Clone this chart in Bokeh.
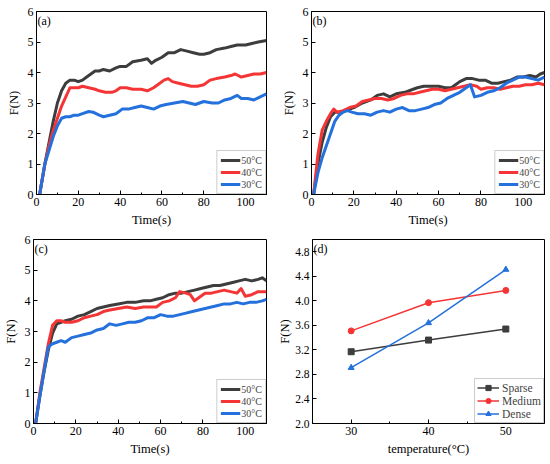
from bokeh.plotting import figure
from bokeh.layouts import column, row
from bokeh.models import Range1d, FixedTicker, Label, Legend, NumeralTickFormatter
from bokeh.embed import file_html
from bokeh.resources import INLINE

FONT = "Liberation Serif"
C50 = "#3d3d3d"
C40 = "#f53535"
C30 = "#2470dc"

# ---------------- panel (a) ----------------
a_t50 = [1.5, 4, 6, 8, 10, 12, 14, 16, 18, 20, 22, 24, 26, 28, 30, 32, 35, 38, 40, 43, 46, 50, 53, 55, 57, 60, 63, 66, 69, 72, 75, 78, 80, 83, 86, 90, 93, 96, 100, 103, 106, 110]
a_f50 = [0, 1.0, 1.7, 2.4, 3.0, 3.4, 3.65, 3.75, 3.75, 3.7, 3.75, 3.85, 3.95, 4.05, 4.05, 4.1, 4.05, 4.15, 4.2, 4.2, 4.35, 4.4, 4.45, 4.3, 4.4, 4.5, 4.65, 4.65, 4.75, 4.7, 4.65, 4.6, 4.6, 4.65, 4.75, 4.8, 4.85, 4.9, 4.9, 4.95, 5.0, 5.05]
a_t40 = [1.5, 4, 6, 8, 10, 12, 14, 16, 18, 20, 22, 25, 28, 30, 33, 36, 38, 40, 43, 46, 50, 53, 56, 58, 61, 63, 65, 68, 71, 74, 77, 80, 83, 86, 90, 93, 95, 98, 101, 104, 107, 110]
a_f40 = [0, 1.0, 1.6, 2.1, 2.5, 2.9, 3.2, 3.5, 3.5, 3.5, 3.55, 3.5, 3.45, 3.4, 3.35, 3.35, 3.4, 3.5, 3.5, 3.45, 3.45, 3.4, 3.5, 3.6, 3.75, 3.8, 3.7, 3.65, 3.6, 3.55, 3.55, 3.6, 3.75, 3.8, 3.85, 3.9, 3.95, 3.85, 3.9, 3.95, 3.95, 4.0]
a_t30 = [1.5, 4, 6, 8, 10, 12, 14, 16, 18, 20, 22, 25, 27, 30, 32, 35, 38, 41, 44, 47, 50, 53, 56, 59, 62, 66, 70, 73, 76, 80, 84, 87, 90, 93, 96, 98, 101, 104, 107, 110]
a_f30 = [0, 1.0, 1.45, 1.9, 2.25, 2.5, 2.55, 2.55, 2.6, 2.6, 2.65, 2.72, 2.7, 2.6, 2.55, 2.6, 2.65, 2.8, 2.8, 2.85, 2.9, 2.85, 2.8, 2.9, 2.95, 3.0, 3.05, 3.0, 2.95, 3.05, 3.0, 3.0, 3.1, 3.15, 3.25, 3.15, 3.15, 3.1, 3.2, 3.3]

# ---------------- panel (b) ----------------
b_t50 = [1, 3, 5, 7, 9, 11, 13, 16, 20, 24, 28, 31, 34, 37, 40, 44, 48, 50, 53, 56, 60, 63, 66, 68, 70, 73, 76, 79, 82, 85, 88, 91, 94, 97, 100, 103, 106, 108, 110]
b_f50 = [0, 1.0, 1.7, 2.2, 2.55, 2.7, 2.7, 2.75, 2.85, 3.0, 3.1, 3.25, 3.3, 3.2, 3.3, 3.35, 3.45, 3.5, 3.55, 3.55, 3.55, 3.5, 3.5, 3.6, 3.7, 3.8, 3.8, 3.75, 3.75, 3.65, 3.65, 3.7, 3.75, 3.85, 3.85, 3.9, 3.85, 3.95, 4.0]
b_t40 = [1, 3, 5, 7, 9, 10.5, 12, 15, 18, 21, 24, 27, 30, 33, 36, 39, 42, 45, 48, 51, 54, 57, 60, 63, 66, 69, 72, 75, 78, 80, 83, 86, 89, 92, 95, 98, 101, 104, 107, 110]
b_f40 = [0, 1.3, 2.1, 2.4, 2.65, 2.8, 2.7, 2.75, 2.85, 2.9, 3.05, 3.1, 3.15, 3.15, 3.1, 3.15, 3.25, 3.3, 3.3, 3.35, 3.4, 3.45, 3.45, 3.4, 3.45, 3.5, 3.55, 3.6, 3.55, 3.45, 3.5, 3.5, 3.45, 3.5, 3.55, 3.55, 3.6, 3.6, 3.65, 3.6]
b_t30 = [1, 3, 5, 7, 9, 11, 13, 15, 17, 19, 22, 25, 28, 31, 34, 37, 40, 43, 46, 49, 52, 55, 58, 61, 64, 67, 70, 73, 75, 76, 77, 80, 83, 86, 89, 92, 95, 98, 101, 104, 107, 110]
b_f30 = [0, 0.7, 1.2, 1.6, 2.0, 2.4, 2.6, 2.7, 2.75, 2.7, 2.65, 2.65, 2.6, 2.7, 2.75, 2.7, 2.8, 2.85, 2.75, 2.75, 2.8, 2.85, 2.95, 3.0, 3.15, 3.25, 3.35, 3.5, 3.6, 3.4, 3.2, 3.25, 3.35, 3.4, 3.5, 3.65, 3.75, 3.85, 3.85, 3.8, 3.75, 3.85]

# ---------------- panel (c) ----------------
c_t50 = [1, 3, 5, 7, 9, 11, 13, 15, 18, 21, 24, 27, 30, 33, 36, 40, 44, 48, 52, 55, 58, 61, 64, 67, 70, 73, 76, 79, 82, 85, 88, 91, 94, 97, 100, 103, 106, 108, 110]
c_f50 = [0, 0.9, 1.7, 2.4, 2.95, 3.25, 3.3, 3.35, 3.4, 3.5, 3.55, 3.65, 3.75, 3.8, 3.85, 3.9, 3.95, 3.95, 4.0, 4.0, 4.05, 4.1, 4.2, 4.25, 4.25, 4.3, 4.35, 4.4, 4.45, 4.5, 4.5, 4.55, 4.6, 4.65, 4.7, 4.65, 4.7, 4.75, 4.65]
c_t40 = [1, 3, 5, 7, 9, 11, 13, 15, 18, 21, 24, 27, 30, 33, 36, 40, 44, 48, 52, 55, 58, 61, 64, 67, 69, 72, 74, 76, 78, 81, 84, 87, 90, 93, 96, 98, 100, 103, 106, 110]
c_f40 = [0, 1.0, 1.8, 2.6, 3.2, 3.35, 3.35, 3.3, 3.3, 3.35, 3.45, 3.5, 3.55, 3.65, 3.7, 3.75, 3.8, 3.75, 3.8, 3.8, 3.8, 3.95, 4.0, 4.1, 4.3, 4.25, 4.2, 4.0, 4.1, 4.25, 4.25, 4.3, 4.35, 4.3, 4.25, 4.4, 4.15, 4.2, 4.3, 4.3]
c_t30 = [1, 3, 5, 7, 9, 11, 13, 15, 18, 21, 24, 27, 30, 33, 36, 39, 42, 45, 48, 51, 54, 57, 60, 63, 66, 69, 72, 75, 78, 81, 84, 87, 90, 93, 96, 99, 102, 105, 108, 110]
c_f30 = [0, 0.9, 1.7, 2.5, 2.6, 2.65, 2.7, 2.65, 2.8, 2.85, 2.9, 2.95, 3.05, 3.1, 3.25, 3.2, 3.25, 3.3, 3.3, 3.35, 3.45, 3.45, 3.55, 3.5, 3.5, 3.55, 3.6, 3.65, 3.7, 3.75, 3.8, 3.85, 3.9, 3.9, 3.95, 3.9, 3.95, 3.95, 4.0, 4.05]

# ---------------- panel (d) ----------------
d_temps = [30, 40, 50]
d_sparse = [3.17, 3.36, 3.54]
d_medium = [3.51, 3.97, 4.17]
d_dense = [2.91, 3.64, 4.51]

time_ticks = [0, 20, 40, 60, 80, 100]
time_minor = [10, 30, 50, 70, 90, 110]
force_ticks = [0, 1, 2, 3, 4, 5, 6]
d_yticks = [2.0, 2.4, 2.8, 3.2, 3.6, 4.0, 4.4, 4.8]
d_xticks = [30, 40, 50]
legend_temps = ["50°C", "40°C", "30°C"]


def style(p, xlabel, ylabel):
    p.grid.visible = False
    p.outline_line_color = "black"
    p.outline_line_width = 1
    p.background_fill_color = "white"
    p.border_fill_color = "white"
    for ax in (p.xaxis[0], p.yaxis[0]):
        ax.axis_line_color = "black"
        ax.major_tick_line_color = "black"
        ax.minor_tick_line_color = "black"
        ax.major_tick_in = 4
        ax.major_tick_out = 0
        ax.minor_tick_in = 2
        ax.minor_tick_out = 0
        ax.major_label_text_font = FONT
        ax.major_label_text_font_size = "12px"
        ax.major_label_text_color = "black"
        ax.axis_label_text_font = FONT
        ax.axis_label_text_font_size = "12.5px"
        ax.axis_label_text_font_style = "normal"
        ax.axis_label_text_color = "black"
        ax.major_label_standoff = 3
        ax.axis_label_standoff = 4
    p.xaxis.axis_label = xlabel
    p.yaxis.axis_label = ylabel


def time_panel(tag, series, size, borders):
    w, h = size
    l, r, t, b = borders
    p = figure(width=w, height=h, output_backend="svg", toolbar_location=None,
               x_range=Range1d(0, 110), y_range=Range1d(0, 6),
               min_border_left=l, min_border_right=r, min_border_top=t, min_border_bottom=b)
    style(p, "Time(s)", "F(N)")
    p.xaxis[0].ticker = FixedTicker(ticks=time_ticks, minor_ticks=time_minor)
    p.yaxis[0].ticker = FixedTicker(ticks=force_ticks, minor_ticks=[])
    items = []
    for (tt, ff, col), lab in zip(series, legend_temps):
        rr = p.line(tt, ff, line_color=col, line_width=3, line_join="round")
        items.append((lab, [rr]))
    leg = Legend(items=items, location="bottom_right", border_line_color="#9a9a9a",
                 border_line_width=1, label_text_font=FONT, label_text_font_size="10px",
                 glyph_width=20, glyph_height=12, label_height=12, label_standoff=1,
                 spacing=0, padding=3, margin=0, background_fill_alpha=1)
    p.add_layout(leg)
    p.add_layout(Label(x=0, y=6, x_offset=1, y_offset=-2, text=tag, text_baseline="top",
                       text_font=FONT, text_font_size="12px", text_color="black"))
    return p


pa = time_panel("(a)", [(a_t50, a_f50, C50), (a_t40, a_f40, C40), (a_t30, a_f30, C30)],
                (275, 232), (36, 9, 11, 38))
pb = time_panel("(b)", [(b_t50, b_f50, C50), (b_t40, b_f40, C40), (b_t30, b_f30, C30)],
                (274, 232), (36, 5, 10, 38))
pc = time_panel("(c)", [(c_t50, c_f50, C50), (c_t40, c_f40, C40), (c_t30, c_f30, C30)],
                (275, 231), (33, 9, 7, 40))

pd = figure(width=274, height=231, output_backend="svg", toolbar_location=None,
            x_range=Range1d(25, 55), y_range=Range1d(2.0, 5.0),
            min_border_left=35, min_border_right=5, min_border_top=4, min_border_bottom=36)
style(pd, "temperature(°C)", "F(N)")
pd.yaxis[0].major_label_standoff = 3
pd.yaxis[0].axis_label_standoff = 0
pd.yaxis[0].major_label_text_font_size = "11.5px"
pd.xaxis[0].ticker = FixedTicker(ticks=d_xticks, minor_ticks=[35, 45])
pd.yaxis[0].ticker = FixedTicker(ticks=d_yticks, minor_ticks=[])
pd.yaxis[0].formatter = NumeralTickFormatter(format="0.0")

items = []
for vals, col, mk, lab in [(d_sparse, C50, "square", "Sparse"),
                           (d_medium, C40, "circle", "Medium"),
                           (d_dense, C30, "triangle", "Dense")]:
    ln = pd.line(d_temps, vals, line_color=col, line_width=1.5)
    sc = pd.scatter(d_temps, vals, marker=mk, size=6, fill_color=col, line_color=col)
    items.append((lab, [ln, sc]))
legd = Legend(items=items, location="bottom_right", border_line_color="#9a9a9a",
              border_line_width=1, label_text_font=FONT, label_text_font_size="11.5px",
              glyph_width=22, glyph_height=13, label_height=13, label_standoff=3,
              spacing=0, padding=2, margin=0, background_fill_alpha=1)
pd.add_layout(legd)
pd.add_layout(Label(x=25, y=5.0, x_offset=1, y_offset=-2, text="(d)", text_baseline="top",
                    text_font=FONT, text_font_size="12px", text_color="black"))

layout = column(row(pa, pb), row(pc, pd))
open("out.html", "w").write(file_html(layout, INLINE))
